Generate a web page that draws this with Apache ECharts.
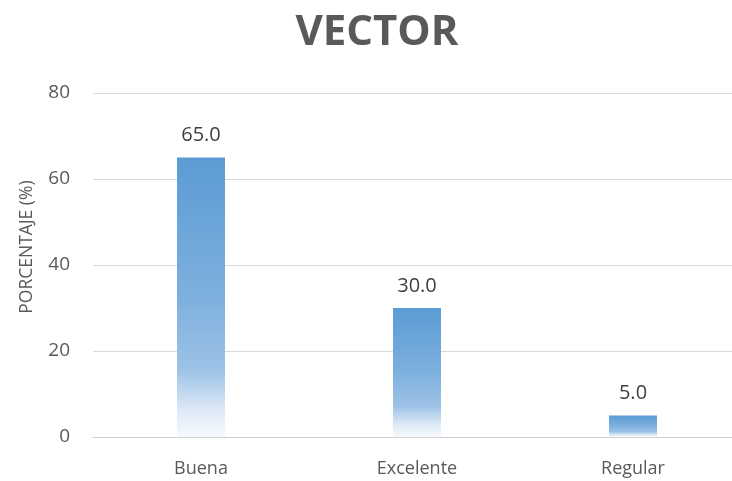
<!DOCTYPE html>
<html><head><meta charset="utf-8">
<script src="https://cdn.jsdelivr.net/npm/echarts@6/dist/echarts.min.js"></script>
<style>html,body{margin:0;padding:0;background:#fff;overflow:hidden}#c{width:741px;height:481px}</style>
</head><body><div id="c"></div>
<script>
const categories = ['Buena', 'Excelente', 'Regular'];
const values = [65.0, 30.0, 5.0];
const yTicks = [0, 20, 40, 60, 80];
const titleText = 'VECTOR';
const yName = 'PORCENTAJE (%)';

const FONT = '"Open Sans", "Liberation Sans", sans-serif';
const chart = echarts.init(document.getElementById('c'), null, {renderer: 'canvas'});
chart.setOption({
  backgroundColor: '#ffffff',
  animation: false,
  title: {
    text: titleText, left: 372, top: 7, textAlign: 'center',
    textStyle: {fontFamily: FONT, fontWeight: 'bold', fontSize: 42, color: '#595959'}
  },
  grid: {left: 93, top: 93, width: 648, height: 344},
  xAxis: {
    type: 'category', data: categories,
    axisLine: {lineStyle: {color: '#d0d0d0', width: 1}},
    axisTick: {show: false},
    axisLabel: {margin: 23, fontFamily: FONT, fontSize: 18, color: '#595959'}
  },
  yAxis: {
    type: 'value', min: yTicks[0], max: yTicks[yTicks.length - 1], interval: 20,
    axisLine: {show: false}, axisTick: {show: false},
    splitLine: {lineStyle: {color: '#d9d9d9', width: 1}},
    axisLabel: {margin: 23, fontFamily: FONT, fontSize: 19, color: '#595959'}
  },
  graphic: [{
    type: 'text', x: 27, y: 247, rotation: Math.PI / 2,
    style: {text: yName, fontFamily: FONT, fontSize: 17.5, fill: '#595959', align: 'center', verticalAlign: 'middle'}
  }],
  series: [{
    type: 'bar', data: values, barWidth: 48,
    itemStyle: {
      color: new echarts.graphic.LinearGradient(0, 0, 0, 1, [
        {offset: 0, color: '#5b9bd5'},
        {offset: 0.5, color: '#7eb0de'},
        {offset: 0.76, color: '#9cc2e6'},
        {offset: 0.9, color: '#dce9f6'},
        {offset: 1, color: '#f7fafd'}
      ])
    },
    label: {
      show: true, position: 'top', distance: 12,
      formatter: p => p.value.toFixed(1),
      fontFamily: FONT, fontSize: 20, color: '#404040'
    }
  }]
});
</script></body></html>
